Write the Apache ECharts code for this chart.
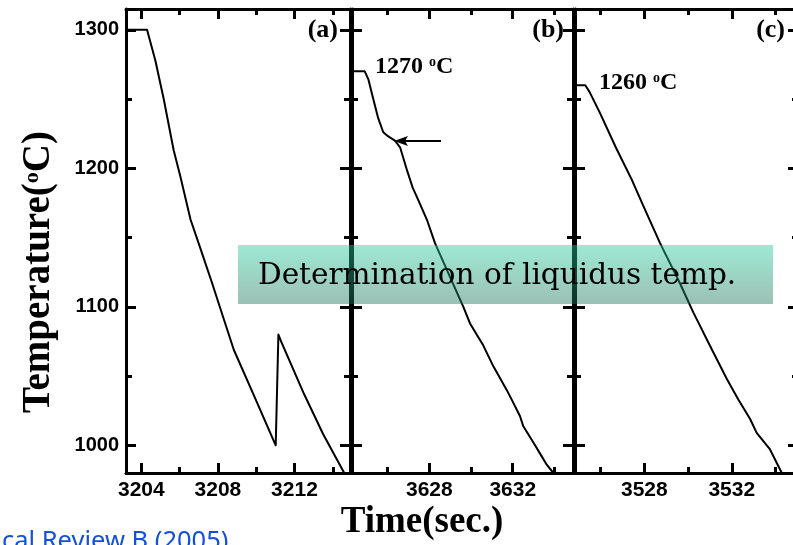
<!DOCTYPE html>
<html><head><meta charset="utf-8">
<script src="https://cdn.jsdelivr.net/npm/echarts@6/dist/echarts.min.js"></script>
<style>html,body{margin:0;padding:0;background:#fff}#c{width:793px;height:545px}</style>
</head><body><div id="c"></div>
<script>
// ---- data ----
const timeA = [3203.2, 3204.3, 3204.73, 3205.17, 3205.69, 3206.04, 3206.57, 3207.09, 3207.7, 3208.31, 3208.83, 3209.88, 3211.02, 3211.16, 3211.3, 3212.5, 3213.5, 3214.6];
const tempA = [1300, 1300, 1278, 1250, 1213, 1194, 1163, 1142, 1117, 1091, 1069, 1036, 1000, 1080, 1075, 1037, 1008, 980];

const timeB = [3624.3, 3624.9, 3625.08, 3625.31, 3625.55, 3625.79, 3626.03, 3626.35, 3626.6, 3626.92, 3627.2, 3627.47, 3627.88, 3628.27, 3628.83, 3629.63, 3629.95, 3630.59, 3631.07, 3631.71, 3631.95, 3632.35, 3632.5, 3632.99, 3633.39, 3633.63, 3633.95];
const tempB = [1270, 1270, 1264, 1250, 1236, 1226, 1223, 1220, 1215, 1199, 1186, 1177, 1163, 1146, 1127, 1100, 1088, 1072, 1057, 1040, 1033, 1021, 1014, 1002, 992, 986, 980];

const timeC = [3524.8, 3525.3, 3525.5, 3525.97, 3526.7, 3527.42, 3527.95, 3528.72, 3529.63, 3530.24, 3531.16, 3531.77, 3532.3, 3532.84, 3533.14, 3533.75, 3534.29];
const tempC = [1260, 1260, 1255, 1240, 1215, 1192, 1173, 1146, 1117, 1096, 1067, 1048, 1033, 1019, 1009, 997, 980];

const panelLabels = ['(a)', '(b)', '(c)'];
const xMin = [3203.2, 3624.29, 3524.83];
const xMax = [3214.9, 3634.89, 3535.03];
const xMajorTicks = [[3204, 3208, 3212], [3628, 3632], [3528, 3532]];
const xMinorTicks = [[3206, 3210, 3214], [3626, 3630, 3634], [3526, 3530, 3534]];
const yMin = 980, yMax = 1315;
const yMajorTicks = [1000, 1100, 1200, 1300];
const yMinorTicks = [1050, 1150, 1250];
const xTitle = 'Time(sec.)';
const yTitleMain = 'Temperature(', yTitleEnd = 'C)';
const holdLabels = ['1270 ', '1260 '];
const noteText = 'Determination of liquidus temp.';
const sourceText = 'cal Review B (2005)';

// ---- layout ----
const grids = [
  {left: 126, top: 9, width: 224, height: 464},
  {left: 352, top: 9, width: 221, height: 464},
  {left: 575, top: 9, width: 223, height: 464}
];
const series = [[timeA, tempA], [timeB, tempB], [timeC, tempC]];

const labelFont = {fontFamily: '"Liberation Sans", Arial, sans-serif', fontWeight: 'bold', color: '#000'};
const xAxes = [], yAxes = [], seriesList = [];
function mkAxis(kind, gi, pos, major, labels) {
  const ticks = major ? (kind === 'x' ? xMajorTicks[gi] : yMajorTicks) : (kind === 'x' ? xMinorTicks[gi] : yMinorTicks);
  return {
    type: 'value', gridIndex: gi, position: pos,
    min: kind === 'x' ? xMin[gi] : yMin,
    max: kind === 'x' ? xMax[gi] : yMax,
    axisLine: {show: major, lineStyle: {color: '#000', width: 3}},
    axisTick: {show: true, inside: true, length: major ? 10 : 6, lineStyle: {color: '#000', width: 3}, customValues: ticks},
    axisLabel: labels ? Object.assign({show: true, customValues: ticks, fontSize: kind === 'x' ? 21 : 20,
      margin: 7, formatter: v => String(v)}, labelFont) : {show: false},
    splitLine: {show: false}
  };
}
grids.forEach((g, gi) => {
  xAxes.push(mkAxis('x', gi, 'bottom', true, true));
  xAxes.push(mkAxis('x', gi, 'bottom', false, false));
  xAxes.push(mkAxis('x', gi, 'top', true, false));
  xAxes.push(mkAxis('x', gi, 'top', false, false));
  yAxes.push(mkAxis('y', gi, 'left', true, gi === 0));
  yAxes.push(mkAxis('y', gi, 'left', false, false));
  yAxes.push(mkAxis('y', gi, 'right', true, false));
  yAxes.push(mkAxis('y', gi, 'right', false, false));
  const [ts, vs] = series[gi];
  seriesList.push({
    type: 'line', xAxisIndex: gi * 4, yAxisIndex: gi * 4,
    data: ts.map((t, i) => [t, vs[i]]),
    showSymbol: false, symbol: 'none', smooth: false,
    lineStyle: {color: '#000', width: 2, join: 'round'}, clip: true, z: 3
  });
});

const serif = '"Liberation Serif", "Times New Roman", serif';
const graphic = [
  {type: 'rect', z: 100, shape: {x: 238, y: 245, width: 535, height: 59},
   style: {fill: new echarts.graphic.LinearGradient(0, 0, 0, 1, [
     {offset: 0, color: 'rgb(37,206,159)'}, {offset: 1, color: 'rgb(35,115,90)'}]), opacity: 0.45}},
  {type: 'text', z: 101, x: 258, y: 276,
   style: {text: noteText, fontFamily: '"DejaVu Serif"', fontSize: 29.5, fill: '#000', verticalAlign: 'middle'}},
  {type: 'text', z: 50, x: 39, y: 272, rotation: Math.PI / 2,
   style: {text: '{m|' + yTitleMain + '}{s|o}{m|' + yTitleEnd + '}', align: 'center', verticalAlign: 'middle',
     rich: {m: {fontFamily: serif, fontWeight: 'bold', fontSize: 39, fill: '#000'},
            s: {fontFamily: serif, fontWeight: 'bold', fontSize: 22, fill: '#000', verticalAlign: 'top', padding: [2, 0, 0, 0]}}}},
  {type: 'text', z: 50, x: 422, y: 522,
   style: {text: xTitle, fontFamily: serif, fontWeight: 'bold', fontSize: 37, fill: '#000', align: 'center', verticalAlign: 'middle'}},
  {type: 'text', z: 50, x: 338, y: 30, style: {text: panelLabels[0], fontFamily: serif, fontWeight: 'bold', fontSize: 26, fill: '#000', align: 'right', verticalAlign: 'middle'}},
  {type: 'text', z: 50, x: 564, y: 30, style: {text: panelLabels[1], fontFamily: serif, fontWeight: 'bold', fontSize: 26, fill: '#000', align: 'right', verticalAlign: 'middle'}},
  {type: 'text', z: 50, x: 785, y: 30, style: {text: panelLabels[2], fontFamily: serif, fontWeight: 'bold', fontSize: 26, fill: '#000', align: 'right', verticalAlign: 'middle'}},
  {type: 'text', z: 50, x: 375, y: 67,
   style: {text: '{m|' + holdLabels[0] + '}{s|o}{m|C}', verticalAlign: 'middle',
     rich: {m: {fontFamily: serif, fontWeight: 'bold', fontSize: 24, fill: '#000'},
            s: {fontFamily: serif, fontWeight: 'bold', fontSize: 14, fill: '#000', verticalAlign: 'top'}}}},
  {type: 'text', z: 50, x: 599, y: 83,
   style: {text: '{m|' + holdLabels[1] + '}{s|o}{m|C}', verticalAlign: 'middle',
     rich: {m: {fontFamily: serif, fontWeight: 'bold', fontSize: 24, fill: '#000'},
            s: {fontFamily: serif, fontWeight: 'bold', fontSize: 14, fill: '#000', verticalAlign: 'top'}}}},
  {type: 'line', z: 50, shape: {x1: 441, y1: 141, x2: 404, y2: 141}, style: {stroke: '#000', lineWidth: 2}},
  {type: 'polygon', z: 50, shape: {points: [[394, 141], [408, 136], [405, 141], [408, 146]]}, style: {fill: '#000'}},
  {type: 'text', z: 50, x: 2, y: 542,
   style: {text: sourceText, fontFamily: '"Noto Sans"', fontSize: 25.5, fill: '#1550d8', verticalAlign: 'middle'}}
];

const chart = echarts.init(document.getElementById('c'), null, {renderer: 'canvas'});
chart.setOption({
  animation: false,
  backgroundColor: '#fff',
  grid: grids.map(g => Object.assign({outerBoundsMode: 'none', containLabel: false}, g)),
  xAxis: xAxes, yAxis: yAxes, series: seriesList, graphic: graphic
});
</script></body></html>
